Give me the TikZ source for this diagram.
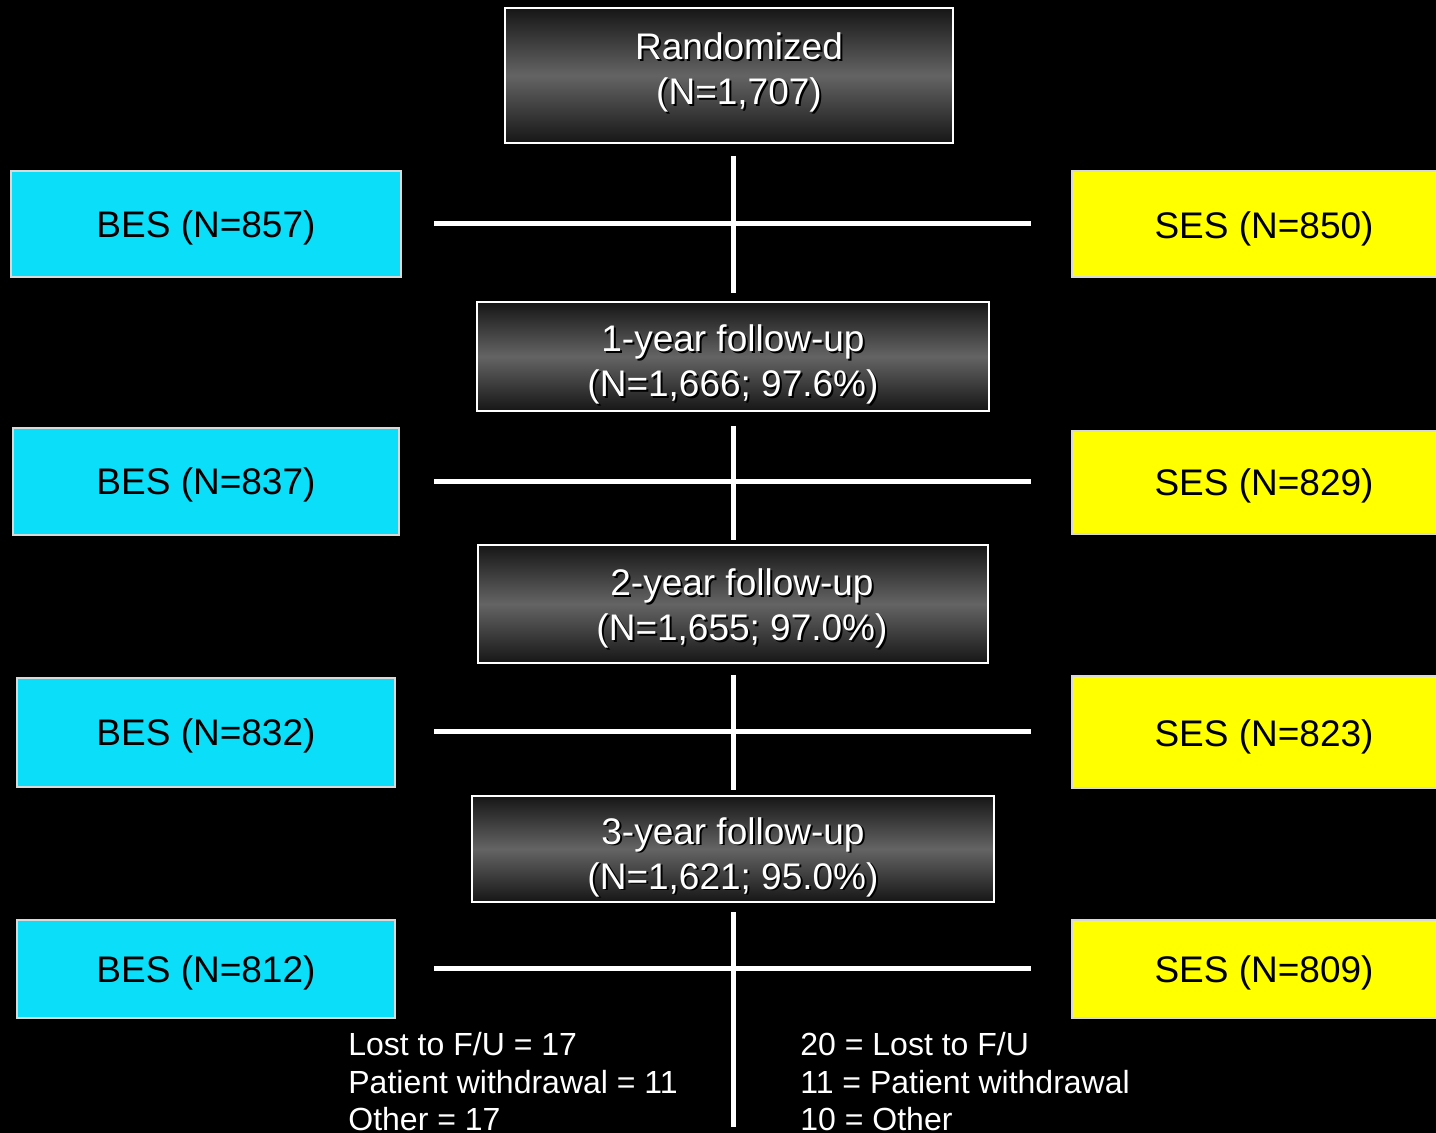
\documentclass[tikz,border=0pt]{standalone}
\usepackage{fontspec}
\setmainfont{Liberation Sans}
\definecolor{bescyan}{RGB}{10,222,248}
\definecolor{sesyellow}{RGB}{255,255,0}
\definecolor{gdark}{RGB}{22,22,22}
\definecolor{gmid}{RGB}{100,100,100}
\begin{document}
\begin{tikzpicture}[x=0.5pt,y=-0.5pt,
  stagebox/.style={draw=white, line width=1pt, top color=gdark, bottom color=gdark, middle color=gmid, inner sep=0pt, outer sep=0pt},
  besbox/.style={draw=white!85!black, line width=1pt, fill=bescyan, inner sep=0pt, outer sep=0pt, minimum width=#1},
  sesbox/.style={draw=white!85!black, line width=1pt, fill=sesyellow, inner sep=0pt, outer sep=0pt},
  bigtxt/.style={font=\fontsize{18.5pt}{22pt}\selectfont, inner sep=0pt, anchor=base},
  armtxt/.style={bigtxt, text=black},
  notetxt/.style={font=\fontsize{16pt}{19pt}\selectfont, text=white, inner sep=0pt, anchor=base west},
  link/.style={draw=white, line width=2.5pt}
]
\fill[black] (0,0) rectangle (1436,1133);
\useasboundingbox (0,0) rectangle (1436,1133);
\newcommand\shtext[3]{%
  \node[bigtxt,text=black,xshift=1pt,yshift=-1pt] at (#1,#2) {#3};
  \node[bigtxt,text=white] at (#1,#2) {#3};}

% stage boxes
\node[stagebox, minimum width=224pt, minimum height=67.5pt] (rand) at (729,75.5) {};
\node[stagebox, minimum width=256pt, minimum height=54.5pt] (fu1) at (733,356.5) {};
\node[stagebox, minimum width=255pt, minimum height=59pt] (fu2) at (733,604) {};
\node[stagebox, minimum width=261pt, minimum height=53pt] (fu3) at (733,849) {};

\shtext{739}{60}{Randomized}
\shtext{739}{105}{(N=1,707)}
\shtext{733}{352}{1-year follow-up}
\shtext{733}{397}{(N=1,666; 97.6\%)}
\shtext{742}{596}{2-year follow-up}
\shtext{742}{641}{(N=1,655; 97.0\%)}
\shtext{733}{844}{3-year follow-up}
\shtext{733}{889}{(N=1,621; 95.0\%)}

% BES boxes
\node[besbox=195pt, minimum height=53pt] (bes1) at (206,224) {};
\node[besbox=193pt, minimum height=53.5pt] (bes2) at (206,481.5) {};
\node[besbox=189pt, minimum height=54.5pt] (bes3) at (206,732.5) {};
\node[besbox=189pt, minimum height=49pt] (bes4) at (206,969) {};
\node[armtxt] at (206,238) {BES (N=857)};
\node[armtxt] at (206,495) {BES (N=837)};
\node[armtxt] at (206,746) {BES (N=832)};
\node[armtxt] at (206,982) {BES (N=812)};

% SES boxes
\node[sesbox, minimum width=186pt, minimum height=53pt] (ses1) at (1258,224) {};
\node[sesbox, minimum width=186pt, minimum height=51.5pt] (ses2) at (1258,482.5) {};
\node[sesbox, minimum width=186pt, minimum height=56pt] (ses3) at (1258,732) {};
\node[sesbox, minimum width=186pt, minimum height=49pt] (ses4) at (1258,969) {};
\node[armtxt] at (1264,239) {SES (N=850)};
\node[armtxt] at (1264,496) {SES (N=829)};
\node[armtxt] at (1264,747) {SES (N=823)};
\node[armtxt] at (1264,982) {SES (N=809)};

% connector coordinates
\coordinate (v1a) at (733,156);  \coordinate (v1b) at (733,293);
\coordinate (h1a) at (434,224);  \coordinate (h1b) at (1031,224);
\coordinate (v2a) at (733,426);  \coordinate (v2b) at (733,540);
\coordinate (h2a) at (434,482);  \coordinate (h2b) at (1031,482);
\coordinate (v3a) at (733,675);  \coordinate (v3b) at (733,790);
\coordinate (h3a) at (434,732);  \coordinate (h3b) at (1031,732);
\coordinate (v4a) at (733,912);  \coordinate (v4b) at (733,1127);
\coordinate (h4a) at (434,968);  \coordinate (h4b) at (1031,968);
\foreach \i in {1,2,3,4} {
  \draw[link] (v\i a) -- (v\i b);
  \draw[link] (h\i a) -- (h\i b);
}

% notes
\node[notetxt] (nl1) at (348,1055) {Lost to F/U = 17};
\node[notetxt] (nl2) at (348,1093) {Patient withdrawal = 11};
\node[notetxt] (nl3) at (348,1130) {Other = 17};
\node[notetxt] (nr1) at (800,1055) {20 = Lost to F/U};
\node[notetxt] (nr2) at (800,1093) {11 = Patient withdrawal};
\node[notetxt] (nr3) at (800,1130) {10 = Other};
\end{tikzpicture}
\end{document}
